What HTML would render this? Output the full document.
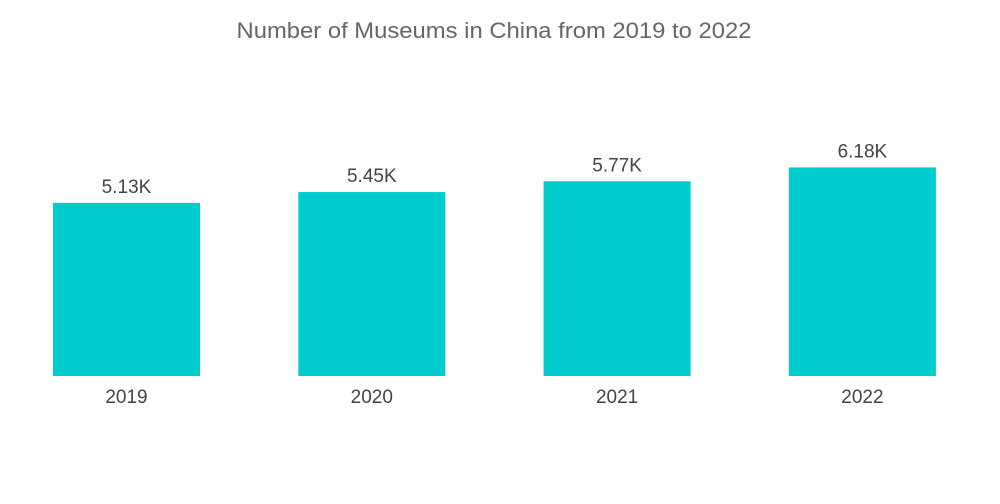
<!DOCTYPE html>
<html><head><meta charset="utf-8"><style>
body{margin:0;background:#fff;font-family:"Liberation Sans",sans-serif;}
svg{display:block}
</style></head><body>
<svg id="chart" width="1000" height="504">
<text x="494" y="38" text-anchor="middle" font-size="22" textLength="515" lengthAdjust="spacingAndGlyphs" fill="#666">Number of Museums in China from 2019 to 2022</text>
<g id="bars"></g>
</svg>
<script>
const categories = ["2019","2020","2021","2022"];
const values = [5.13,5.45,5.77,6.18];
const valueLabels = ["5.13K","5.45K","5.77K","6.18K"];
const baseY = 376, pxPerUnit = 33.75, x0 = 53, step = 245.3, barW = 147;
const yScale = v => baseY - v * pxPerUnit;
const xScale = i => x0 + i * step;
const g = document.getElementById('bars');
const NS = "http://www.w3.org/2000/svg";
categories.forEach((c, i) => {
  const r = document.createElementNS(NS, 'rect');
  
  
  r.setAttribute('x', xScale(i)); r.setAttribute('y', yScale(values[i]));
  r.setAttribute('width', barW); r.setAttribute('height', baseY - yScale(values[i]));
  r.setAttribute('fill', '#00cccd');
  g.appendChild(r);
  const t = document.createElementNS(NS, 'text');
  
  
  t.setAttribute('x', xScale(i) + barW / 2); t.setAttribute('y', yScale(values[i]) - 10);
  t.setAttribute('text-anchor', 'middle'); t.setAttribute('font-size', '19'); t.setAttribute('fill', '#444');
  t.textContent = valueLabels[i];
  g.appendChild(t);
  const x = document.createElementNS(NS, 'text');
  
  
  x.setAttribute('x', xScale(i) + barW / 2); x.setAttribute('y', 403);
  x.setAttribute('text-anchor', 'middle'); x.setAttribute('font-size', '19'); x.setAttribute('fill', '#444');
  x.textContent = c;
  g.appendChild(x);
});
</script>
</body></html>
